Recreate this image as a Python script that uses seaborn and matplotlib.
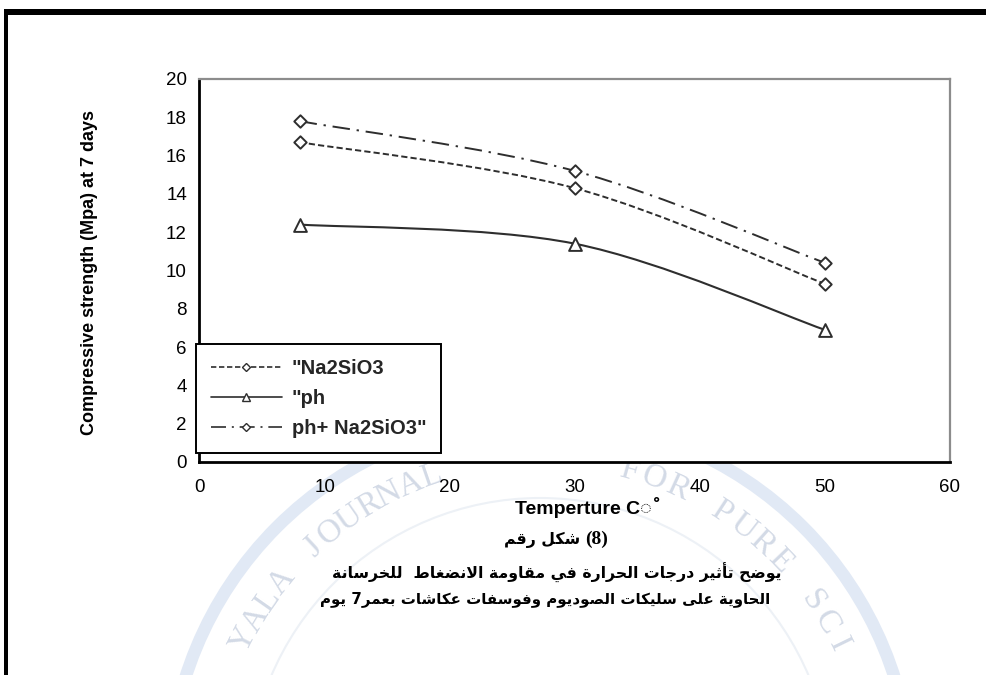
import numpy as np
import pandas as pd
import matplotlib
matplotlib.use("Agg")
import matplotlib.pyplot as plt
from matplotlib.path import Path
from matplotlib.patches import PathPatch, Rectangle, Circle
from matplotlib.lines import Line2D
import seaborn as sns

# ---------------------------------------------------------------- data
temperature = [8, 30, 50]
na2sio3 = [16.7, 14.3, 9.3]
ph = [12.4, 11.4, 6.9]
ph_na2sio3 = [17.8, 15.2, 10.4]
series_labels = ['"Na2SiO3', '"ph', 'ph+ Na2SiO3"']
x_ticks = [0, 10, 20, 30, 40, 50, 60]
y_ticks = [0, 2, 4, 6, 8, 10, 12, 14, 16, 18, 20]

y_label = "Compressive strength (Mpa) at 7 days"
x_label = "Temperture C\u25cc\u0652"
caption_1 = "شكل رقم"
caption_1_num = "(8)"
caption_2 = "يوضح تأثير درجات الحرارة في مقاومة الانضغاط  للخرسانة"
caption_3 = "الحاوية على سليكات الصوديوم وفوسفات عكاشات بعمر7 يوم"

# ---------------------------------------------------------------- style
sns.set_theme(style="white")
plt.rcParams["font.family"] = ["Liberation Sans", "DejaVu Sans"]
LINE = "#2e2e2e"


# ------------------------------------------------- Arabic contextual shaping
def _forms_table():
    spec = [("\u0621", 0xFE80, 1), ("\u0622", 0xFE81, 2), ("\u0623", 0xFE83, 2),
            ("\u0624", 0xFE85, 2), ("\u0625", 0xFE87, 2), ("\u0626", 0xFE89, 4),
            ("\u0627", 0xFE8D, 2), ("\u0628", 0xFE8F, 4), ("\u0629", 0xFE93, 2),
            ("\u062A", 0xFE95, 4), ("\u062B", 0xFE99, 4), ("\u062C", 0xFE9D, 4),
            ("\u062D", 0xFEA1, 4), ("\u062E", 0xFEA5, 4), ("\u062F", 0xFEA9, 2),
            ("\u0630", 0xFEAB, 2), ("\u0631", 0xFEAD, 2), ("\u0632", 0xFEAF, 2),
            ("\u0633", 0xFEB1, 4), ("\u0634", 0xFEB5, 4), ("\u0635", 0xFEB9, 4),
            ("\u0636", 0xFEBD, 4), ("\u0637", 0xFEC1, 4), ("\u0638", 0xFEC5, 4),
            ("\u0639", 0xFEC9, 4), ("\u063A", 0xFECD, 4), ("\u0641", 0xFED1, 4),
            ("\u0642", 0xFED5, 4), ("\u0643", 0xFED9, 4), ("\u0644", 0xFEDD, 4),
            ("\u0645", 0xFEE1, 4), ("\u0646", 0xFEE5, 4), ("\u0647", 0xFEE9, 4),
            ("\u0648", 0xFEED, 2), ("\u0649", 0xFEEF, 2), ("\u064A", 0xFEF1, 4)]
    return {ch: [chr(start + k) for k in range(n)] for ch, start, n in spec}


FORMS = _forms_table()
LAM_ALEF = {"\u0622": 0xFEF5, "\u0623": 0xFEF7, "\u0625": 0xFEF9, "\u0627": 0xFEFB}


def _shape(text):
    units, i = [], 0
    while i < len(text):
        c = text[i]
        if c == "\u0644" and i + 1 < len(text) and text[i + 1] in LAM_ALEF:
            units.append(("LA", text[i + 1]))
            i += 2
        else:
            units.append((c, None))
            i += 1

    def nforms(u):
        return 2 if u[0] == "LA" else len(FORMS.get(u[0], []))

    out = []
    for k, u in enumerate(units):
        nf = nforms(u)
        prev = units[k - 1] if k > 0 else None
        nxt = units[k + 1] if k + 1 < len(units) else None
        jp = nf >= 2 and prev is not None and nforms(prev) == 4
        jn = nf == 4 and nxt is not None and nforms(nxt) >= 2
        if u[0] == "LA":
            out.append(chr(LAM_ALEF[u[1]] + (1 if jp else 0)))
        elif nf == 0:
            out.append(u[0])
        else:
            f = FORMS[u[0]]
            out.append(f[3] if (jp and jn) else f[2] if jn else f[1] if jp else f[0])
    return out


def arabic(text):
    """Shaped glyphs in left-to-right display order."""
    runs = []
    for g in _shape(text):
        kind = "d" if g.isdigit() else "o"
        if runs and kind == "d" and runs[-1][0] == "d":
            runs[-1][1].append(g)
        else:
            runs.append((kind, [g]))
    mirror = {"(": ")", ")": "("}
    s = ""
    for kind, gs in reversed(runs):
        s += "".join(gs) if kind == "d" else "".join(mirror.get(g, g) for g in reversed(gs))
    return s


# ----------------------------------------------------- smooth (Bezier) path
def smooth_path(xs, ys):
    p = np.column_stack([xs, ys]).astype(float)
    n = len(p)
    verts, codes = [p[0]], [Path.MOVETO]
    for i in range(n - 1):
        p0, p1, p2, p3 = p[max(i - 1, 0)], p[i], p[i + 1], p[min(i + 2, n - 1)]
        verts += [p1 + (p2 - p0) / 6.0, p2 - (p3 - p1) / 6.0, p2]
        codes += [Path.CURVE4] * 3
    return Path(verts, codes)


# ---------------------------------------------------------------- figure
W, H = 987, 675
fig = plt.figure(figsize=(W / 100, H / 100), dpi=100)
fig.patch.set_facecolor("white")

# page layer in pixel coordinates (frame lines and faint journal seal)
bg = fig.add_axes([0, 0, 1, 1], zorder=-1)
bg.set_xlim(0, W)
bg.set_ylim(H, 0)
bg.axis("off")
bg.add_patch(Rectangle((3.5, 9), W - 3.5, 6, color="black", lw=0))
bg.add_patch(Rectangle((3.5, 9), 4.5, H - 9, color="black", lw=0))

seal_c = (540, 790)
bg.add_patch(Circle(seal_c, 372, fill=False, ec="#e1e9f5", lw=9))
bg.add_patch(Circle(seal_c, 292, fill=False, ec="#edf1f6", lw=1.5))
seal_font = dict(family="Liberation Serif", fontsize=24, color="#d3dae6",
                 ha="center", va="center", rotation_mode="anchor")
for word, a0, step in [("DIYALA JOURNAL", -71.0, 4.0), ("FOR PURE SCIENCES", 15.6, 4.4)]:
    for k, ch in enumerate(word):
        a = np.radians(a0 + k * step)
        px = seal_c[0] + 332 * np.sin(a)
        py = seal_c[1] - 332 * np.cos(a)
        if py < 652:
            bg.text(px, py, ch, rotation=-np.degrees(a), **seal_font)

# main chart
ax = fig.add_axes([199.5 / W, 1 - 462 / H, 750.5 / W, 383 / H])
ax.set_facecolor("white")

styles = [dict(ls=(0, (3.2, 1.6)), lw=1.4), dict(ls="-", lw=1.5),
          dict(ls=(0, (9, 3.5, 1.2, 3.5)), lw=1.4)]
markers = ["D", "^", "D"]
marker_area = [40, 85, 40]
values = [na2sio3, ph, ph_na2sio3]

df = pd.DataFrame({
    "Temperature": temperature * 3,
    "Strength": na2sio3 + ph + ph_na2sio3,
    "Series": sum([[lbl] * len(temperature) for lbl in series_labels], []),
})

for lbl, st, mk, ms, vals in zip(series_labels, styles, markers, marker_area, values):
    ax.add_patch(PathPatch(smooth_path(temperature, vals), fill=False,
                           ec=LINE, linestyle=st["ls"], lw=st["lw"], zorder=2))
    sns.scatterplot(data=df[df["Series"] == lbl], x="Temperature", y="Strength",
                    marker=mk, s=ms, color="white", edgecolor=LINE, linewidth=1.4,
                    zorder=4, ax=ax, legend=False)

ax.set_xlim(0, 60)
ax.set_ylim(0, 20)
ax.set_xticks(x_ticks)
ax.set_yticks(y_ticks)
ax.set_xlabel("")
ax.set_ylabel("")
ax.tick_params(axis="both", direction="out", length=5, width=1.5, color="black",
               labelsize=13.5, labelcolor="black")
ax.tick_params(axis="x", pad=7)
ax.tick_params(axis="y", pad=4)
for side in ["left", "bottom"]:
    ax.spines[side].set_color("black")
    ax.spines[side].set_linewidth(2)
for side in ["top", "right"]:
    ax.spines[side].set_color("#8c8c8c")
    ax.spines[side].set_linewidth(1.6)
ax.grid(False)

handles = [Line2D([], [], color=LINE, linestyle=st["ls"], lw=1.2, marker=mk,
                  markersize=4 if mk == "D" else 5.5, markerfacecolor="white",
                  markeredgecolor=LINE, markeredgewidth=1.0)
           for st, mk in zip(styles, markers)]
leg = ax.legend(handles, series_labels, loc="lower left",
                bbox_to_anchor=(-0.0047, 0.0235), borderaxespad=0,
                prop=dict(family="Liberation Sans", weight="bold", size=14.5),
                frameon=True, fancybox=False, framealpha=1, edgecolor="black",
                handlelength=3.5, handletextpad=0.5, labelspacing=0.55,
                borderpad=0.75, numpoints=1)
leg.get_frame().set_linewidth(1.4)
leg.set_zorder(6)

# axis titles
fig.text(90 / W, 1 - 273 / H, y_label, rotation=90, ha="center", va="center",
         fontsize=13, fontweight="bold", color="black")
fig.text(583 / W, 1 - 508 / H, x_label, ha="center", va="center",
         fontsize=14, fontweight="bold", color="black",
         family=["Liberation Sans", "DejaVu Sans"])

# caption
ar = dict(family=["DejaVu Sans"], fontweight="bold", color="black", va="center")
fig.text(580 / W, 1 - 540 / H, arabic(caption_1), ha="right", fontsize=11.3, **ar)
fig.text(585 / W, 1 - 539 / H, caption_1_num, ha="left", va="center",
         family="Liberation Serif", fontweight="bold", fontsize=14, color="black")
fig.text(557 / W, 1 - 573 / H, arabic(caption_2), ha="center", fontsize=11.3, **ar)
fig.text(545 / W, 1 - 599 / H, arabic(caption_3), ha="center", fontsize=10.8, **ar)

fig.savefig("out.png", dpi=100, facecolor="white")
